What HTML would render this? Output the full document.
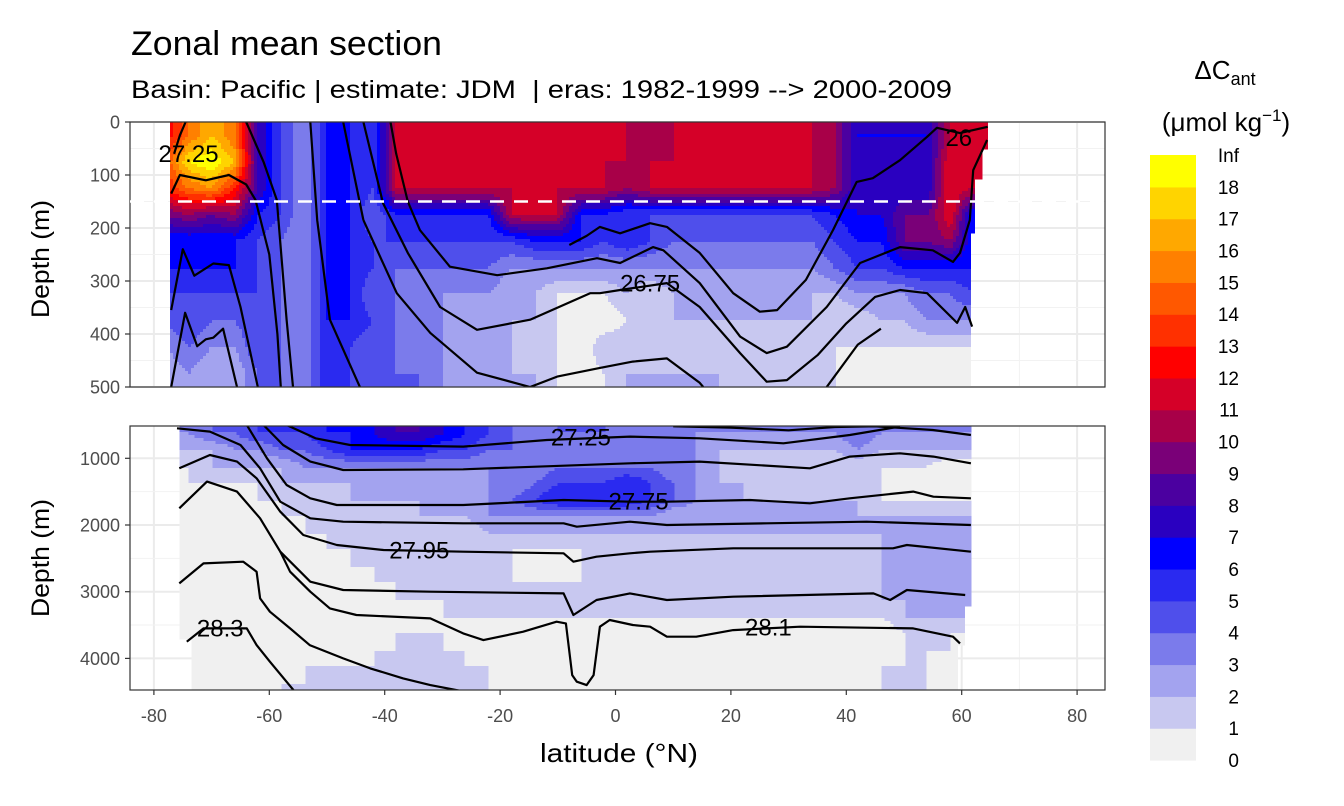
<!DOCTYPE html>
<html><head><meta charset="utf-8">
<style>
html,body{margin:0;padding:0;background:#fff;}
svg{display:block;font-family:"Liberation Sans",sans-serif;}
</style></head>
<body>
<svg id="chart" width="1344" height="806" viewBox="0 0 1344 806">
<rect x="0" y="0" width="1344" height="806" fill="#fff"/>
<text x="131" y="55" font-size="34" textLength="311" lengthAdjust="spacingAndGlyphs" fill="#000">Zonal mean section</text>
<text x="131" y="98" font-size="25" textLength="821" lengthAdjust="spacingAndGlyphs" fill="#000" xml:space="preserve">Basin: Pacific | estimate: JDM  | eras: 1982-1999 --&gt; 2000-2009</text>
<g id="top-panel"></g>
<g id="bot-panel"></g>
<g id="axes"></g>
<text transform="translate(49,259) rotate(-90)" text-anchor="middle" font-size="25" textLength="118" lengthAdjust="spacingAndGlyphs">Depth (m)</text>
<text transform="translate(49,558) rotate(-90)" text-anchor="middle" font-size="25" textLength="118" lengthAdjust="spacingAndGlyphs">Depth (m)</text>
<text x="619" y="762" text-anchor="middle" font-size="26" textLength="158" lengthAdjust="spacingAndGlyphs">latitude (°N)</text>
<g id="legend">
<text x="1225" y="79" text-anchor="middle" font-size="26">ΔC<tspan font-size="18" dy="6">ant</tspan></text>
<text x="1226" y="131" text-anchor="middle" font-size="26">(μmol kg<tspan font-size="17" dy="-10">−1</tspan><tspan dy="10">)</tspan></text>
</g>
</svg>
<script>
const NS="http://www.w3.org/2000/svg";
// ---------- data ----------
const binColors=["#f0f0f0","#c8c8f0","#a3a3ef","#7b7beb","#4f4feb","#2a2af0","#0000ff","#2a00c0","#4b00a0","#7a0078","#a80048","#d50028","#ff0000","#ff3000","#ff5800","#ff8000","#ffa800","#ffd400","#ffff00"];
const legendLabels=["0","1","2","3","4","5","6","7","8","9","10","11","12","13","14","15","16","17","18","Inf"];
const gridLats=[-78,-74,-70,-66,-62,-58,-54,-50,-46,-42,-38,-34,-30,-26,-22,-18,-14,-10,-6,-2,2,6,10,14,18,22,26,30,34,38,42,46,50,54,58,62];
const topDepths=[25,75,125,175,225,275,325,375,425,475];
const topRows=[
"cfhf853665"+"bbbbbbbbbb"+"ba"+"bbbbbbb"+"a"+"7777"+"bb",
"eijh853665"+"bbbbbbbbbb"+"bb"+"bbbbbbb"+"a"+"7777"+"cb",
"dfgd853665"+"bbbbbbbbbb"+"ab"+"bbbbbbb"+"a"+"7777"+"cb",
"9a9a653664"+"66666bbb66"+"55"+"5555555"+"6"+"7799"+"c6",
"6666543665"+"5555556665"+"65"+"4444444"+"5"+"6699"+"a6",
"6666543665"+"4444433333"+"33"+"3333333"+"4"+"5566"+"66",
"5555543664"+"4333322111"+"21"+"2222222"+"2"+"3334"+"45",
"4544543665"+"4332222100"+"11"+"2222222"+"1"+"1223"+"33",
"3433543654"+"4332221102"+"21"+"2111111"+"1"+"1111"+"11",
"2322443654"+"4432222101"+"22"+"2221111"+"1"+"0000"+"00"];
const botDepths=[625,875,1125,1375,1625,1875,2125,2375,2625,2875,3125,3375,3625,3875,4125,4375];
const botRows=[
"3344555667"+"8876543444"+"33"+"3333333"+"3"+"4333"+"33",
"2223344566"+"6655443333"+"33"+"3322222"+"2"+"3222"+"22",
"1122223333"+"3333333444"+"44"+"3321111"+"1"+"1111"+"00",
"0111122222"+"2222334555"+"65"+"4322111"+"1"+"1100"+"00",
"0000111122"+"2222345666"+"65"+"4322222"+"2"+"2111"+"11",
"0000011111"+"1222333333"+"33"+"2222222"+"2"+"2222"+"22",
"0000001111"+"1111222222"+"22"+"2222222"+"2"+"2222"+"22",
"0000000111"+"1111111111"+"11"+"1111111"+"1"+"1222"+"22",
"0000000011"+"1111110011"+"11"+"1111111"+"1"+"1222"+"22",
"0000000001"+"1111111111"+"11"+"1111111"+"1"+"2222"+"22",
"0000000000"+"1111111111"+"11"+"1111111"+"1"+"1222"+"22",
"0000000000"+"0011111111"+"11"+"1111111"+"1"+"1122"+"22",
"0000000000"+"1110010100"+"00"+"0000000"+"0"+"0011"+"11",
"0000000001"+"1111000000"+"00"+"0000000"+"0"+"0011"+"10",
"0000001111"+"1111100000"+"00"+"0000000"+"0"+"0111"+"00",
"0000011111"+"1111100000"+"00"+"0000000"+"0"+"0111"+"00"];
// contour isolines [lat, depth]
const topContours=[
[[-77,355],[-75,240],[-73,290],[-69.7,267],[-67,270],[-65,349],[-62,500]],
[[-77,500],[-74.6,360],[-72.5,423],[-71,410],[-69.7,407],[-68,390],[-65.6,500]],
[[-77,135],[-75.5,100],[-71,110],[-67,100],[-64,118],[-62.4,147],[-60,250],[-58.6,400],[-58,500]],
[[-64,0],[-61,75],[-58.7,147],[-57,373],[-55.9,500]],
[[-52.9,0],[-51.7,185],[-49.5,373],[-44.3,500]],
[[-47.2,0],[-43.7,185],[-37.9,323],[-32.1,398],[-24,473],[-14.8,500]],
[[-14.8,500],[-10,480],[-2.7,464],[3,452],[8.9,446],[14.6,492],[15.2,500]],
[[-43.7,0],[-40.3,153],[-36,247],[-30.4,349],[-24,392],[-14.8,373],[-4.4,323],[-2.7,323],[0.8,317],[8.9,304],[14.6,349],[21.6,436],[26.2,490],[29.7,487],[35,440],[40,380],[45,330],[49.3,317],[54,323],[59.2,379],[60.6,349],[61.8,386]],
[[-39,0],[-38,60],[-36,150],[-33.9,204],[-28.7,273],[-20.5,289],[-11.9,276],[-3.2,257],[0.8,266],[6.5,236],[8.3,242],[14.6,304],[21.6,405],[26.2,436],[29.7,424],[36.6,349],[42.4,266],[49.3,236],[55,242],[58.5,264],[59.7,247],[61.4,185],[62,91],[64.4,34]],
[[-8,232],[-5,215],[-2.7,198],[0.8,210],[6,191],[8.9,198],[14.6,247],[20.4,323],[25,358],[28,355],[33,298],[37.7,204],[41.8,113],[44.6,106],[49.3,72],[54,28],[55.7,11],[59.7,21],[64.5,9]],
[[36.6,500],[42,420],[46,390]],
[[-76.5,60],[-75.5,25],[-74.5,0]]];
const botContours=[
[[10,520],[20,540],[30,580],[38,530],[45,520],[55,575],[61.6,650]],
[[-57,500],[-52,700],[-46,800],[-26.4,825],[-11.9,725],[2.5,675],[14.6,700],[29.1,775],[40.6,650],[49.3,525]],
[[-61,500],[-57.6,800],[-52.9,1050],[-47.2,1175],[-26.4,1165],[2.5,1075],[14.6,1050],[33.7,1150],[40.6,975],[49.3,925],[55.1,975],[61.6,1075]],
[[-63.9,500],[-60.4,1000],[-57,1400],[-52.9,1600],[-48.3,1700],[-26.4,1700],[-9,1625],[2.5,1650],[8.9,1650],[23.3,1625],[33.7,1675],[40.6,1600],[51.6,1500],[55.1,1575],[61.6,1600]],
[[-76,550],[-70.3,600],[-65,800],[-61.6,1150],[-58.1,1650],[-52.9,1900],[-47.2,1950],[-26.4,1975],[-9,1975],[-6.7,2025],[2.5,1950],[8.9,2000],[26.2,1975],[43.5,1950],[61.6,2000]],
[[-75.6,1150],[-70.3,950],[-65.6,1050],[-62.2,1300],[-58.1,1800],[-54.1,2150],[-48.3,2300],[-40.2,2375],[-26.4,2400],[-9,2425],[-7.3,2550],[-3.3,2475],[2.5,2425],[6,2400],[20.4,2350],[48.1,2350],[50.5,2300],[61.6,2400]],
[[-75.6,1750],[-70.8,1350],[-65.6,1500],[-61.6,1900],[-58.1,2400],[-52.9,2850],[-47.2,2975],[-32.1,3000],[-9,3025],[-7.3,3350],[-3.3,3125],[2.5,3025],[8.9,3125],[20.4,3075],[44.7,3025],[47.6,3125],[50.5,2975],[60.6,3050]],
[[-58.1,2400],[-56.4,2700],[-52.9,3000],[-49.5,3250],[-44.9,3350],[-32.1,3400],[-26.4,3625],[-22.9,3725],[-16,3600],[-10.2,3450],[-8.6,3475],[-7.5,4250],[-6.7,4350],[-5,4400],[-3.8,4250],[-2.7,3525],[-1,3425],[3,3500],[6,3525],[8.9,3675],[14,3675],[20.4,3575],[32,3525],[51.6,3550],[58.5,3675],[59.7,3775]],
[[-74.3,3750],[-71.4,3550],[-63.9,3550],[-62.2,3800],[-59.9,4050],[-55.8,4475]],
[[-75.6,2875],[-71.4,2575],[-64.5,2550],[-62.2,2700],[-61.6,3100],[-59.9,3300],[-56.4,3550],[-53,3800],[-47.2,4000],[-42.5,4150],[-36.8,4300],[-32.1,4400],[-26,4500]]];
const topLabels=[["27.25",-74,60],["26",59.5,30],["26.75",6,305]];
const botLabels=[["27.25",-6,690],["27.75",4,1650],["27.95",-34,2380],["28.3",-68.5,3550],["28.1",26.5,3540]];
const xTicks=[-80,-60,-40,-20,0,20,40,60,80];
const topYTicks=[0,100,200,300,400,500];
const botYTicks=[1000,2000,3000,4000];
// ---------- scales ----------
const PX0=130,PX1=1105;
const xS=lat=>615.5+lat*5.77;
const latOf=x=>(x-615.5)/5.77;
const T={y0:122,y1:387,yS:d=>122+d*0.53,dOf:y=>(y-122)/0.53};
const B={y0:426,y1:690,yS:d=>458.3+(d-1000)*0.0667,dOf:y=>1000+(y-458.3)/0.0667};
function el(tag,attrs,parent){const e=document.createElementNS(NS,tag);for(const k in attrs)e.setAttribute(k,attrs[k]);parent.appendChild(e);return e;}
function val(ch){const c=ch.charCodeAt(0);return c<=57?c-48:c-87;}
function sample(rows,depths,lat,d){
  let fx=(lat-gridLats[0])/4;fx=Math.max(0,Math.min(gridLats.length-1,fx));
  const dstep=depths[1]-depths[0];
  let fy=(d-depths[0])/dstep;fy=Math.max(0,Math.min(depths.length-1,fy));
  const i0=Math.floor(fx),j0=Math.floor(fy),i1=Math.min(i0+1,gridLats.length-1),j1=Math.min(j0+1,depths.length-1);
  const tx=fx-i0,ty=fy-j0;
  const v00=val(rows[j0][i0]),v10=val(rows[j0][i1]),v01=val(rows[j1][i0]),v11=val(rows[j1][i1]);
  return (v00*(1-tx)+v10*tx)*(1-ty)+(v01*(1-tx)+v11*tx)*ty;
}
function drawPanel(g,P,rows,depths,extent,contours,labels,yticks,minorTicks){
  el("rect",{x:PX0,y:P.y0,width:PX1-PX0,height:P.y1-P.y0,fill:"#fff"},g);
  const grid=el("g",{},g);
  
  
  for(let l=-70;l<=70;l+=20)el("line",{x1:xS(l),x2:xS(l),y1:P.y0,y2:P.y1,stroke:"#f2f2f2","stroke-width":1},grid);
  xTicks.forEach(l=>el("line",{x1:xS(l),x2:xS(l),y1:P.y0,y2:P.y1,stroke:"#ebebeb","stroke-width":2},grid));
  minorTicks.forEach(d=>el("line",{x1:PX0,x2:PX1,y1:P.yS(d),y2:P.yS(d),stroke:"#f2f2f2","stroke-width":1},grid));
  yticks.forEach(d=>el("line",{x1:PX0,x2:PX1,y1:P.yS(d),y2:P.yS(d),stroke:"#ebebeb","stroke-width":2},grid));
  const fill=el("g",{"shape-rendering":"crispEdges"},g);
  
  
  const st=3;
  for(let y=P.y0;y<P.y1;y+=st){
    const d=P.dOf(y+st/2);
    const [lo,hi]=extent(d);
    let runStart=null,runBin=-1;
    const xs=Math.max(PX0,xS(lo)),xe=Math.min(PX1,xS(hi));
    for(let x=xs;x<xe+st;x+=st){
      let b=-1;
      if(x<xe){const v=sample(rows,depths,latOf(x+st/2),d);b=Math.max(0,Math.min(18,Math.floor(v)));}
      if(b!==runBin){
        if(runBin>=0){el("rect",{x:runStart,y:y,width:Math.min(x,xe)-runStart+0.5,height:Math.min(st,P.y1-y)+0.5,fill:binColors[runBin]},fill);}
        runStart=x;runBin=b;
      }
    }
  }
  const cg=el("g",{fill:"none",stroke:"#000","stroke-width":2.2,"stroke-linejoin":"round"},g);
  
  
  const clip=el("clipPath",{id:"clip"+P.y0},g);
  el("rect",{x:PX0,y:P.y0,width:PX1-PX0,height:P.y1-P.y0},clip);
  cg.setAttribute("clip-path","url(#clip"+P.y0+")");
  contours.forEach(c=>{
    const p=el("polyline",{points:c.map(q=>xS(q[0]).toFixed(1)+","+P.yS(q[1]).toFixed(1)).join(" ")},cg);
    
    
  });
  labels.forEach(l=>{
    const t=el("text",{x:xS(l[1]),y:P.yS(l[2])+8,"text-anchor":"middle","font-size":24,fill:"#000"},g);
    t.textContent=l[0];
    
    
  });
  el("rect",{x:PX0,y:P.y0,width:PX1-PX0,height:P.y1-P.y0,fill:"none",stroke:"#333","stroke-width":1.2},g);
  yticks.forEach(d=>{
    const y=P.yS(d);
    el("line",{x1:PX0-5,x2:PX0,y1:y,y2:y,stroke:"#333","stroke-width":1.2},g);
    const t=el("text",{x:PX0-10,y:y+6.5,"text-anchor":"end","font-size":18,fill:"#4d4d4d"},g);
    t.textContent=d;
    
    
  });
}
const topG=document.getElementById("top-panel"),botG=document.getElementById("bot-panel");
drawPanel(topG,T,topRows,topDepths,d=>[-77.2,d<50?64.5:d<110?63.5:d<210?62.2:61.5],topContours,topLabels,topYTicks,[50,150,250,350,450]);
const dash=el("line",{x1:PX0,x2:PX1,y1:T.yS(150),y2:T.yS(150),stroke:"#fff","stroke-width":2.5,"stroke-dasharray":"14 10"},topG);


drawPanel(botG,B,botRows,botDepths,d=>[d>3700?-73.5:-75.6,d>3800?59.3:d>3200?60.5:61.6],botContours,botLabels,botYTicks,[1500,2500,3500]);
// x axis
const ax=document.getElementById("axes");
xTicks.forEach(l=>{
  el("line",{x1:xS(l),x2:xS(l),y1:690,y2:695,stroke:"#333","stroke-width":1.2},ax);
  const t=el("text",{x:xS(l),y:722,"text-anchor":"middle","font-size":18,fill:"#4d4d4d"},ax);
  t.textContent=l;
  
  
});
// legend
const lg=document.getElementById("legend");
const LT=155,LB=760,bh=(LB-LT)/binColors.length;
binColors.forEach((c,k)=>{
  const r=el("rect",{x:1150,y:(LB-(k+1)*bh).toFixed(2),width:46,height:(bh+0.6).toFixed(2),fill:c},lg);
  
  
});
legendLabels.forEach((s,k)=>{
  const t=el("text",{x:1239,y:(LB-k*bh+7).toFixed(1),"text-anchor":"end","font-size":19,fill:"#000"},lg);
  t.textContent=s;
  
  
});
</script>
</body></html>
